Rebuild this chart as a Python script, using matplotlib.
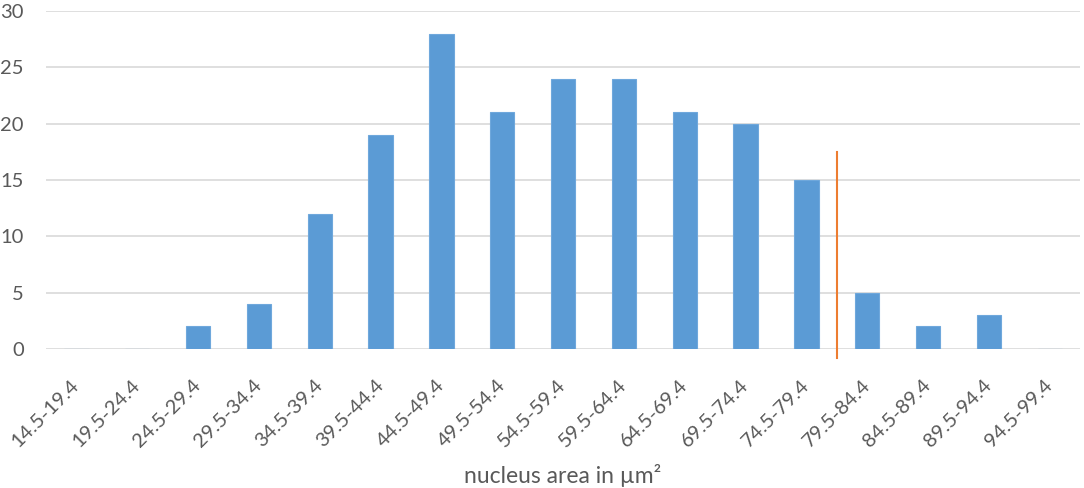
import matplotlib.pyplot as plt
import numpy as np

# bins of nucleus area and counts
bins = ["14.5-19.4", "19.5-24.4", "24.5-29.4", "29.5-34.4", "34.5-39.4",
        "39.5-44.4", "44.5-49.4", "49.5-54.4", "54.5-59.4", "59.5-64.4",
        "64.5-69.4", "69.5-74.4", "74.5-79.4", "79.5-84.4", "84.5-89.4",
        "89.5-94.4", "94.5-99.4"]
counts = [0, 0, 2, 4, 12, 19, 28, 21, 24, 24, 21, 20, 15, 5, 2, 3, 0]

# threshold marker between 74.5-79.4 and 79.5-84.4
marker_x = 12.5
marker_y = (-0.8, 17.5)

plt.rcParams['font.family'] = ['Lato', 'DejaVu Sans']
text_col = '#595959'

fig = plt.figure(figsize=(10.84, 4.88), dpi=100)
ax = fig.add_axes([0.0424, 0.2848, 0.954, 0.6927])

x = np.arange(len(bins))
ax.bar(x, counts, width=0.4, color='#5B9BD5', edgecolor='#6FA8DC',
       linewidth=0.8, zorder=3)
ax.plot([marker_x, marker_x], marker_y, color='#ED7D31', linewidth=1.5,
        zorder=4, clip_on=False)

ax.set_xlim(-0.5, len(bins) - 0.5)
ax.set_ylim(0, 30)
ax.set_yticks(range(0, 31, 5))
ax.grid(True, axis='y', color='#D9D9D9', linewidth=1.2, zorder=0)
for s in ax.spines.values():
    s.set_visible(False)
ax.tick_params(axis='both', length=0, labelsize=14.5, colors=text_col)
ax.tick_params(axis='y', pad=16)
ax.set_xticks(x)
ax.set_xticklabels(bins, rotation=45, ha='right', va='center',
                   rotation_mode='anchor')
ax.tick_params(axis='x', pad=24)
ax.set_xlabel('nucleus area in µm²', fontsize=16.5, color=text_col, labelpad=10)

fig.savefig('out.png', dpi=100, facecolor='white')
